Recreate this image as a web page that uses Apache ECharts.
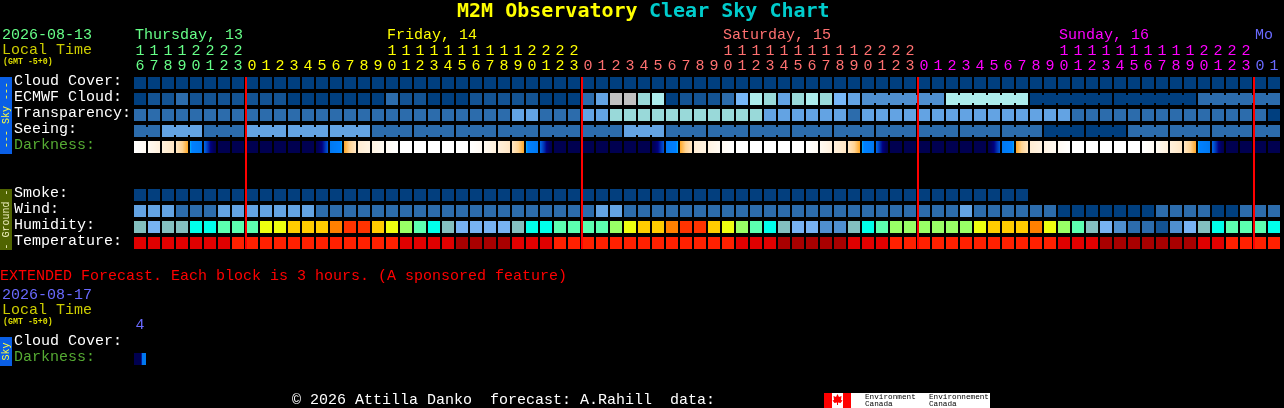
<!DOCTYPE html>
<html><head><meta charset="utf-8">
<style>html,body{margin:0;padding:0;background:#000;overflow:hidden}#c{width:1284px;height:408px}</style>
<script src="https://cdn.jsdelivr.net/npm/echarts@6/dist/echarts.min.js"></script>
</head><body><div id="c"></div>
<script>
// ---------- data ----------
const hourLabels = [16,17,18,19,20,21,22,23,
 0,1,2,3,4,5,6,7,8,9,10,11,12,13,14,15,16,17,18,19,20,21,22,23,
 0,1,2,3,4,5,6,7,8,9,10,11,12,13,14,15,16,17,18,19,20,21,22,23,
 0,1,2,3,4,5,6,7,8,9,10,11,12,13,14,15,16,17,18,19,20,21,22,23,
 0,1];
const dayOfColumn = [0,0,0,0,0,0,0,0,
 1,1,1,1,1,1,1,1,1,1,1,1,1,1,1,1,1,1,1,1,1,1,1,1,
 2,2,2,2,2,2,2,2,2,2,2,2,2,2,2,2,2,2,2,2,2,2,2,2,
 3,3,3,3,3,3,3,3,3,3,3,3,3,3,3,3,3,3,3,3,3,3,3,3,
 4,4];
const dayNames = ['Thursday, 13','Friday, 14','Saturday, 15','Sunday, 16','Mo'];
const dayStartCols = [0,18,42,66,80];
const midnightCols = [8,32,56,80];
const skyRows = ['Cloud Cover:','ECMWF Cloud:','Transparency:','Seeing:','Darkness:'];
const groundRows = ['Smoke:','Wind:','Humidity:','Temperature:'];
const extendedRows = ['Cloud Cover:','Darkness:'];
const extendedHours = [4];

const cloudCover = [0,0,0,0,0,0,0,0,0,0,0,0,0,0,0,0,0,0,0,0,0,0,0,0,0,0,0,0,0,0,0,0,0,0,0,0,0,0,0,0,0,
 0,0,0,0,0,0,0,0,0,0,0,0,0,0,0,0,0,0,0,0,0,0,0,0,0,0,0,0,0,0,0,0,0,0,0,0,0,0,0,0,0];
const ecmwfCloud = [0,1,1,2,1,1,1,1,1,1, 1,0,0,0,0,0,0,0,2,1, 1,0,0,0,1,1,1,1,1,0,
 0,0,2,4,8,8,6,7,0,1, 1,1,2,5,7,6,4,6,7,6, 5,4,
 3,3,3,3,3,3, 7,7,7,7,7,7, 0,0,0,0,0,0, 0,0,0,0,0,0, 2,2,2,2,2,2];
const ecmwfGroups = [1,1,1,1,1,1,1,1,1,1,1,1,1,1,1,1,1,1,1,1,1,1,1,1,1,1,1,1,1,1,1,1,1,1,1,1,1,1,1,1,1,1,1,1,1,1,1,1,1,1,1,1,6,6,6,6,6];
const transparency = [2,2,2,2,2,2,2,2,2,2,2,2,2,2,2,2,2,2,2,2,2,2,2,2,2,2,2, 4,4, 2,2,2, 4,4,
 6,6,6,6,6,6,6,6,6,6,6, 4,4,4,4,4,4, 2, 4,4,4,4,4,4,4,4,4,4,4,4,4,4,4, 2,2,2,2,2,2,2,2,2,2,2,2,2,2, 0];
const seeing = [2,2, 4,4,4, 2,2,2, 4,4,4, 4,4,4, 4,4,4, 2,2,2,2,2,2,2,2,2,2,2,2,2,2,2,2,2,2, 4,4,4,
 2,2,2,2,2,2,2,2,2,2,2,2,2,2,2,2,2,2,2,2,2,2,2,2,2,2,2, 0,0,0,0,0,0, 2,2,2,2,2,2,2,2,2,2,2];
const seeingGroups = [2,3,3,3,3,3,3,3,3,3,3,3,3,3,3,3,3,3,3,3,3,3,3,3,3,3,3,2];
const darknessLeft = [0,.5,1.2,2,4,5.5,10,10,10,10,10,10,10,10,5,3.9,1.5,1,.5,0,0,0,0,0,
 0,.5,1.2,2,4,5.5,10,10,10,10,10,10,10,10,5,3.9,1.5,1,.5,0,0,0,0,0,
 0,.5,1.2,2,4,5.5,10,10,10,10,10,10,10,10,5,3.9,1.5,1,.5,0,0,0,0,0,
 0,.5,1.2,2,4,5.5,10,10,10,10];
const darknessRight = [.5,1.2,2,3.9,5,10,10,10,10,10,10,10,10,6,4,2,1,.5,0,0,0,0,0,0,
 .5,1.2,2,3.9,5,10,10,10,10,10,10,10,10,6,4,2,1,.5,0,0,0,0,0,0,
 .5,1.2,2,3.9,5,10,10,10,10,10,10,10,10,6,4,2,1,.5,0,0,0,0,0,0,
 .5,1.2,2,3.9,5,10,10,10,10,10];
const smoke = [0,0,0,0,0,0,0,0,0,0,0,0,0,0,0,0,0,0,0,0,0,0,0,0,0,0,0,0,0,0,0,0,
 0,0,0,0,0,0,0,0,0,0,0,0,0,0,0,0,0,0,0,0,0,0,0,0,0,0,0,0,0,0,0,0];
const wind = [4,4,4,2,2,2,4,4,4,4, 4,4,4,2,2,2,2,2,2,2, 2,2,2,2,2,2,2,2,2,2,2,2,2, 4,4,
 2,2,2,2,2,2,2,2,2,2,2,2,2,2,2,2,2,2,2,2,2,2,2,2, 4, 2,2,2,2,2,2, 0,0,0,0,0,0,0, 2,2,2,2, 0,0, 2,2,2];
const humidity = [4,3,4,4,5,5,6,6,6,8, 8,9,9,9,10,11,11,9,8,7, 6,5,4,3,3,3,3,4,5,5,
 6,6,6,6,7,8,9,9,10,11, 11,9,8,7,6,5,4,3,3,2, 2,4,5,6,7,7,7,7,7,7,
 8,9,9,9,10,8,7,6,4,3, 2,1,1,0,2,3,4,5,6,6, 6,5];
const temperature = [1,1,1,1,1,1,1, 2,2,2,2,2,2,2,2,2,2,2,2, 1,1,1,1, 0,0,0,0, 1,1,1,
 2,2,2,2,2,2,2,2,2,2,2,2,2, 1,1,1, 0,0,0,0,0, 1,1,1, 2,2,2,2,2,2,2,2,2,2,2,2, 1,1,1,
 0,0,0,0,0,0,0, 1,1, 2,2,2,2];
const extendedDarkness = [10,10,10,10,10,10,10,10,5,5,5,5,5];

// ---------- styles ----------
const MONO = '"Liberation Mono", monospace';
const skyPalette = ['#003F7F','#135393','#2C6CAC','#4F8FCF','#63A3E3','#77B7F7','#99D9D9','#ADEDED','#C1C1C1'];
const humidityPalette = ['#135393','#2C6CAC','#4F8FCF','#77B2F2','#83BFBF','#00FFEA','#5CFFB0','#99FF66','#EEFF10','#FFCC00','#FF8000','#FF3300'];
const tempPalette = ['#A80000','#E00000','#FF2000'];
const smokePalette = ['#033F7E'];
const darkRamp = [[0,'#ffffff'],[.5,'#fffaf2'],[1,'#fff3e2'],[2,'#ffe6c4'],[3,'#ffd494'],[3.9,'#ffa826'],[4,'#00b0ff'],[4.15,'#0080ff'],
 [5,'#0078f0'],[6,'#0058d8'],[7,'#0030b0'],[8,'#000080'],[9,'#000060'],[10,'#000050']];
const dayColors = ['#66ff88','#ffff00','#ff7070','#ff00ff','#6a6aff'];
const LEFT = 133, BAND = 14;

function hexRgb(h){return [1,3,5].map(i=>parseInt(h.substr(i,2),16));}
function rampColor(v){
  for(let i=1;i<darkRamp.length;i++){
    if(v<=darkRamp[i][0]){
      const a=darkRamp[i-1],b=darkRamp[i],t=(v-a[0])/(b[0]-a[0]);
      const p=hexRgb(a[1]),q=hexRgb(b[1]);
      return 'rgb('+p.map((x,k)=>Math.round(x+(q[k]-x)*t)).join(',')+')';
    }
  }
  return darkRamp[darkRamp.length-1][1];
}
function gradient(levels){
  const stops=[],n=24;
  for(let i=0;i<=n;i++){
    const s=i/n*(levels.length-1),j=Math.min(Math.floor(s),levels.length-2),f=s-j;
    stops.push({offset:i/n,color:rampColor(levels[j]+(levels[j+1]-levels[j])*f)});
  }
  return new echarts.graphic.LinearGradient(0,0,1,0,stops);
}
function linksFrom(groups){
  const out=[];
  groups.forEach(g=>{for(let i=0;i<g;i++)out.push(i<g-1);});
  return out;
}
function cellSeries(gridIndex,row,values,palette,links){
  return {type:'custom',xAxisIndex:gridIndex,yAxisIndex:gridIndex,coordinateSystem:'cartesian2d',clip:false,silent:true,
    encode:{x:0,y:1},
    data:values.map((v,i)=>[i,row,v,links&&links[i]?1:0]),
    renderItem(params,api){
      const c=api.coord([api.value(0),api.value(1)]),s=api.size([1,1]);
      const x=c[0]-s[0]/2+1,y=c[1]-s[1]/2+2,w=s[0]-2,h=s[1]-4,fill=palette[api.value(2)];
      const kids=[{type:'rect',shape:{x,y,width:w,height:h},style:{fill}}];
      if(api.value(3))kids.push({type:'rect',shape:{x:x+w,y:y+2,width:2,height:h-4},style:{fill}});
      return {type:'group',children:kids};
    }};
}
function darkSeries(gridIndex,row,cells){
  return {type:'custom',xAxisIndex:gridIndex,yAxisIndex:gridIndex,clip:false,silent:true,encode:{x:0,y:1},
    data:cells.map((v,i)=>[i,row]),
    renderItem(params,api){
      const c=api.coord([api.value(0),api.value(1)]),s=api.size([1,1]);
      return {type:'rect',shape:{x:c[0]-s[0]/2+1,y:c[1]-s[1]/2+2,width:s[0]-2,height:s[1]-4},
        style:{fill:gradient(cells[params.dataIndex])}};
    }};
}
function rowAxis(i,names){
  const token=color=>({color,fontFamily:MONO,fontSize:15,lineHeight:15,padding:[0,0,4,0]});
  return {type:'category',gridIndex:i,inverse:true,data:names,axisLine:{show:false},axisTick:{show:false},splitLine:{show:false},
    axisLabel:{show:true,interval:0,align:'left',margin:119,
      formatter:v=>(v==='Darkness:'?'{g|':'{w|')+v+'}',
      rich:{w:token('#ffffff'),g:token('#55aa33')}}};
}
function txt(x,y,text,fill,font){
  return {type:'text',x,y,silent:true,z:5,style:{text,fill,font:font||('15px '+MONO),textVerticalAlign:'middle'}};
}
function vtxt(x,y,text,fill){
  return {type:'text',x,y,rotation:Math.PI/2,silent:true,z:6,
    style:{text,fill,font:'10px '+MONO,textAlign:'center',textVerticalAlign:'middle'}};
}
function box(x,y,w,h,fill){return {type:'rect',silent:true,z:4,shape:{x,y,width:w,height:h},style:{fill}};}

const SMALL='bold 8.3px '+MONO;
const TITLE='bold 20px "DejaVu Sans Mono", monospace';
const graphicEls=[
  txt(457,12,'M2M Observatory','#ffff00',TITLE),
  txt(649,12,'Clear Sky Chart','#00cccc',TITLE),
  txt(2,35,'2026-08-13',dayColors[0]),
  txt(2,50,'Local Time','#cccc00'),
  txt(3,62,'(GMT -5+0)','#dddd00',SMALL),
  box(0,77,12,77,'#0A5FE6'),vtxt(6,115,'--- Sky ---','#ffff40'),
  box(0,189,12,61,'#506400'),vtxt(6,219.5,'- Ground -','#f0f0c0'),
  txt(0,276,'EXTENDED Forecast. Each block is 3 hours. (A sponsored feature)','#ff0000'),
  txt(2,295,'2026-08-17',dayColors[4]),
  txt(2,310,'Local Time','#cccc00'),
  txt(3,322,'(GMT -5+0)','#dddd00',SMALL),
  box(0,337,12,29,'#0A5FE6'),vtxt(6,351.5,'Sky','#ffff40'),
  txt(292,400,'\u00A9 2026 Attilla Danko  forecast: A.Rahill  data:','#ffffff'),
  box(824,393,166,15,'#ffffff'),box(824,393,8,15,'#ff0000'),box(843,393,8,15,'#ff0000'),
  {type:'polygon',silent:true,z:5,shape:{points:[[837.5,394],[839,397],[841.5,396],[841,400],[842.5,400.5],[840.5,403],[838,402.5],[838,405],[837,405],[837,402.5],[834.5,403],[832.5,400.5],[834,400],[833.5,396],[836,397]]},style:{fill:'#ff0000'}},
  txt(865,397,'Environment','#000000','7.7px '+MONO),
  txt(865,404,'Canada','#000000','7.7px '+MONO),
  txt(929,397,'Environnement','#000000','7.7px '+MONO),
  txt(929,404,'Canada','#000000','7.7px '+MONO)
];
dayNames.forEach((n,i)=>graphicEls.push(txt(LEFT+dayStartCols[i]*BAND+2,35,n,dayColors[i])));

const columnIdx=hourLabels.map((h,i)=>i);
const option={
  backgroundColor:'#000',animation:false,
  grid:[
    {left:LEFT,top:75,width:BAND*82,height:80},
    {left:LEFT,top:187,width:BAND*82,height:64},
    {left:LEFT,top:335,width:BAND,height:32},
    {left:LEFT,top:77,width:BAND*82,height:172}
  ],
  xAxis:[
    {type:'category',gridIndex:0,position:'top',data:columnIdx,axisLine:{show:false},axisTick:{show:false},splitLine:{show:false},
      axisLabel:{interval:0,margin:1,fontFamily:MONO,fontSize:15,lineHeight:15,
        formatter:(v,i)=>{const h=hourLabels[i];return (h>=10?Math.floor(h/10):' ')+'\n'+(h%10);},
        color:(v,i)=>dayColors[dayOfColumn[i==null?+v:i]]}},
    {type:'category',gridIndex:1,data:columnIdx,show:false},
    {type:'category',gridIndex:2,position:'top',data:extendedHours,axisLine:{show:false},axisTick:{show:false},splitLine:{show:false},
      axisLabel:{interval:0,margin:2,fontFamily:MONO,fontSize:15,color:dayColors[4]}},
    {type:'category',gridIndex:3,data:columnIdx,show:false}
  ],
  yAxis:[
    rowAxis(0,skyRows),rowAxis(1,groundRows),rowAxis(2,extendedRows),
    {type:'value',gridIndex:3,min:0,max:1,show:false}
  ],
  series:[
    cellSeries(0,0,cloudCover,skyPalette),
    cellSeries(0,1,ecmwfCloud,skyPalette,linksFrom(ecmwfGroups)),
    cellSeries(0,2,transparency,skyPalette),
    cellSeries(0,3,seeing,skyPalette,linksFrom(seeingGroups)),
    darkSeries(0,4,darknessLeft.map((l,i)=>[l,darknessRight[i]])),
    cellSeries(1,0,smoke,smokePalette),
    cellSeries(1,1,wind,skyPalette),
    cellSeries(1,2,humidity,humidityPalette),
    cellSeries(1,3,temperature,tempPalette),
    darkSeries(2,1,[extendedDarkness]),
    {type:'custom',xAxisIndex:3,yAxisIndex:3,clip:false,silent:true,z:10,encode:{x:0},
      data:midnightCols.map(c=>[c]),
      renderItem(params,api){
        const t=api.coord([api.value(0),1]),b=api.coord([api.value(0),0]),s=api.size([1,0]);
        return {type:'rect',shape:{x:t[0]-s[0]/2,y:t[1],width:2,height:b[1]-t[1]},style:{fill:'#ff0000'}};
      }}
  ],
  graphic:graphicEls
};
echarts.init(document.getElementById('c'),null,{renderer:'canvas'}).setOption(option);
</script></body></html>
